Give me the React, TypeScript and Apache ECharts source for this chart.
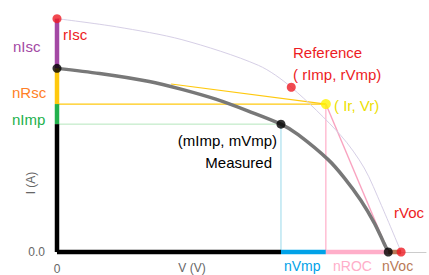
import React, { useEffect, useRef } from 'react';
import * as echarts from 'echarts';

// Measured I-V curve (V, I)
const measuredV = [0, 4.97, 10.75, 14.56, 18.5, 22.3, 26.1, 28.1, 31.6, 33.5, 35.4, 37.0, 38.1, 38.6];
const measuredI = [7.87, 7.65, 7.31, 6.97, 6.55, 6.04, 5.48, 5.03, 3.96, 3.17, 2.22, 1.23, 0.38, 0];
// Reference I-V curve (V, I)
const referenceV = [0, 6.94, 14.56, 23.47, 27.3, 33.06, 35.8, 37.8, 40.1];
const referenceI = [10.0, 9.65, 9.1, 8.0, 7.06, 5.0, 3.6, 2.0, 0];

// Key points
const rIsc = 10.0;
const mIsc = 7.87;
const Ir = 6.34;
const mImp = 5.48;
const rImp = 7.06;
const mVmp = 26.1;
const Vr = 31.33;
const mVoc = 38.6;
const rVoc = 40.1;
const rVmp = 27.3;
const tangentStart = [13.3, 7.2];

const vMax = 43;
const iMax = 10.8;

const FONT = "'Liberation Sans', Arial, sans-serif";

export default function App() {
  const ref = useRef<HTMLDivElement>(null);
  useEffect(() => {
    document.body.style.margin = '0';
    const chart = echarts.init(ref.current!, null, { renderer: 'svg' });

    const seg = (pts: number[][], color: string, width: number, z: number, smooth: number | boolean = false) => ({
      type: 'line',
      data: pts,
      symbol: 'none',
      smooth,
      clip: false,
      silent: true,
      z,
      lineStyle: { color, width },
    });
    const dot = (pt: number[], color: string, size = 9) => ({
      type: 'scatter',
      data: [pt],
      symbolSize: size,
      clip: false,
      silent: true,
      z: 20,
      itemStyle: { color },
    });
    const txt = (text: string, x: number, y: number, fill: string, align = 'left', size = 15, rotation = 0) => ({
      type: 'text',
      x,
      y,
      rotation,
      z: 30,
      silent: true,
      style: {
        text,
        fill,
        fontSize: size,
        fontFamily: FONT,
        align,
        textAlign: align,
        verticalAlign: 'middle',
        textVerticalAlign: 'middle',
      },
    });

    const measured = measuredV.map((v, i) => [v, measuredI[i]]);
    const reference = referenceV.map((v, i) => [v, referenceI[i]]);

    chart.setOption({
      animation: false,
      grid: { left: 57, right: 0, top: 0, bottom: 21, containLabel: false },
      xAxis: {
        type: 'value',
        min: 0,
        max: vMax,
        interval: vMax,
        axisLine: { show: true, lineStyle: { color: '#cccccc', width: 1 } },
        axisTick: { show: false },
        splitLine: { show: false },
        axisLabel: {
          show: true,
          margin: 11,
          color: '#666',
          fontSize: 12,
          fontFamily: FONT,
          formatter: (v: number) => (v === 0 ? '0' : ''),
        },
      },
      yAxis: {
        type: 'value',
        min: 0,
        max: iMax,
        interval: iMax / 2,
        axisLine: { show: false },
        axisTick: { show: false },
        splitLine: { show: false },
        axisLabel: {
          show: true,
          margin: 12,
          color: '#666',
          fontSize: 12,
          fontFamily: FONT,
          formatter: (v: number) => (v === 0 ? '0.0' : ''),
        },
      },
      series: [
        // thin helper lines
        seg([[0, Ir], [Vr, Ir]], '#ffc90e', 1.2, 2),
        seg([tangentStart, [Vr, Ir]], '#ffc90e', 1.2, 2),
        seg([[0, mImp], [mVmp, mImp]], '#b5e6bd', 1, 2),
        seg([[mVmp, mImp], [mVmp, 0]], '#99d9ea', 1, 2),
        seg([[Vr, Ir], [Vr, 0]], '#ffaec9', 1.2, 2),
        seg([[Vr, Ir], [mVoc, 0]], '#f9a3c0', 1.4, 2),
        // curves
        seg(reference, '#d6cfe6', 1, 3, 0.3),
        seg(measured, '#787878', 3.5, 4, 0.3),
        // y-axis segments
        seg([[0, rIsc], [0, mIsc]], '#a349a4', 4.5, 6),
        seg([[0, mIsc], [0, Ir]], '#ffc90e', 4.5, 6),
        seg([[0, Ir], [0, mImp]], '#22b14c', 4.5, 6),
        seg([[0, mImp], [0, 0]], '#000000', 4.5, 6),
        // x-axis segments
        seg([[0, 0], [mVmp, 0]], '#000000', 4.5, 6),
        seg([[mVmp, 0], [Vr, 0]], '#00a2e8', 4.5, 6),
        seg([[Vr, 0], [mVoc, 0]], '#ffaec9', 4.5, 6),
        seg([[mVoc, 0], [rVoc, 0]], '#b97a57', 4.5, 6),
        // points
        dot([0, rIsc], '#ed1c24'),
        dot([0, mIsc], '#000000'),
        dot([rVmp, rImp], '#ed1c24'),
        dot([Vr, Ir], '#fff200', 10),
        dot([mVmp, mImp], '#000000'),
        dot([mVoc, 0], '#000000'),
        dot([rVoc, 0], '#ed1c24'),
      ],
      graphic: [
        txt('nIsc', 13, 46, '#a349a4'),
        txt('rIsc', 63, 34, '#ed1c24'),
        txt('nRsc', 12, 92, '#ff7f27'),
        txt('nImp', 12, 119, '#22b14c'),
        txt('Reference', 293, 52, '#ed1c24'),
        txt('( rImp, rVmp)', 293, 74, '#ed1c24'),
        txt('( Ir, Vr)', 334, 105, '#ece000'),
        txt('(mImp, mVmp)', 277, 140, '#000000', 'right'),
        txt('Measured', 272, 162, '#000000', 'right'),
        txt('rVoc', 394, 212, '#ed1c24'),
        txt('nVmp', 284, 266, '#00a2e8', 'left', 14),
        txt('nROC', 333, 266, '#ffaec9', 'left', 14),
        txt('nVoc', 382, 266, '#b97a57', 'left', 14),
        txt('V (V)', 192, 268, '#666', 'center', 12),
        txt('I (A)', 31, 183, '#666', 'center', 12, Math.PI / 2),
      ],
    });

    return () => chart.dispose();
  }, []);
  return <div ref={ref} style={{ width: 429, height: 275 }} />;
}
